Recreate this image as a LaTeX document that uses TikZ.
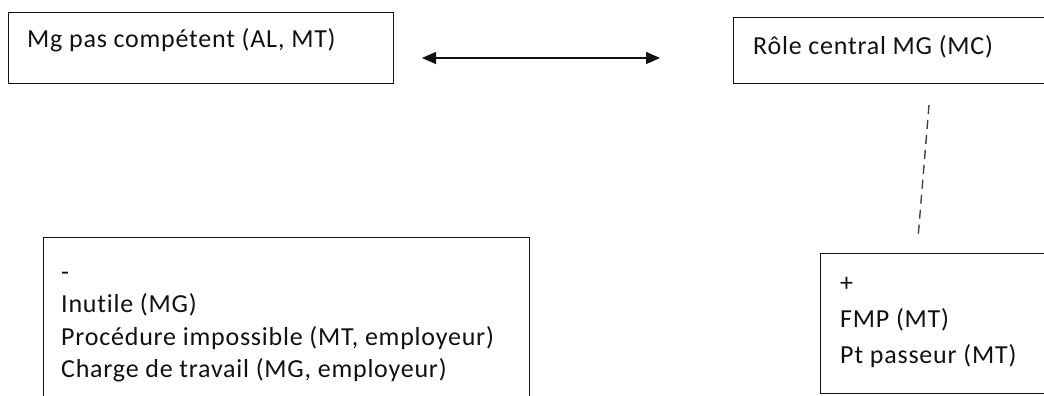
\documentclass[tikz,border=0pt]{standalone}
\usepackage{fontspec}
\setmainfont{Carlito}[LetterSpace=3,Ligatures=NoCommon]
\usetikzlibrary{arrows.meta}
\definecolor{inkc}{HTML}{111111}
\definecolor{dashc}{HTML}{444444}
\tikzset{
  boxst/.style={draw=inkc, line width=1.3pt, inner sep=0pt, anchor=north west},
  txt/.style={inner sep=0pt, anchor=base west, text=inkc, font=\fontsize{26}{30}\selectfont},
  dblarrow/.style={line width=1.4pt, draw=inkc, {Triangle[length=14pt,width=12pt]}-{Triangle[length=14pt,width=12pt]}},
  dashlink/.style={draw=dashc, line width=1.4pt, dash pattern=on 9pt off 6pt}
}
\begin{document}
\begin{tikzpicture}[x=1pt,y=-1pt]
\useasboundingbox (0,0) rectangle (1044,396);
\clip (0,0) rectangle (1044,396);
% top boxes
\node[boxst, minimum width=385pt, minimum height=71pt] (b1) at (8,12) {};
\node[txt] (t1) at (27,48) {Mg pas compétent (AL, MT)};
\node[boxst, minimum width=330pt, minimum height=66pt] (b2) at (733,17) {};
\node[txt] (t2) at (753,55) {Rôle central MG (MC)};
% arrow
\coordinate (a1) at (422,58);
\coordinate (a2) at (660,58);
\draw[dblarrow] (a1) -- (a2);
% bottom left box
\node[boxst, minimum width=486pt, minimum height=200pt] (b3) at (43,237) {};
\node[txt] (l0) at (61,280) {-};
\node[txt] (l1) at (61,312) {Inutile (MG)};
\node[txt] (l2) at (61,345) {Procédure impossible (MT, employeur)};
\node[txt] (l3) at (61,377) {Charge de travail (MG, employeur)};
% bottom right box
\node[boxst, minimum width=260pt, minimum height=140pt] (b4) at (820,253) {};
\node[txt] (r0) at (840,291) {+};
\node[txt] (r1) at (840,327) {FMP (MT)};
\node[txt] (r2) at (840,363) {Pt passeur (MT)};
% dashed link
\coordinate (d1) at (929,105);
\coordinate (d2) at (918,238);
\draw[dashlink] (d1) -- (d2);
\end{tikzpicture}
\end{document}
